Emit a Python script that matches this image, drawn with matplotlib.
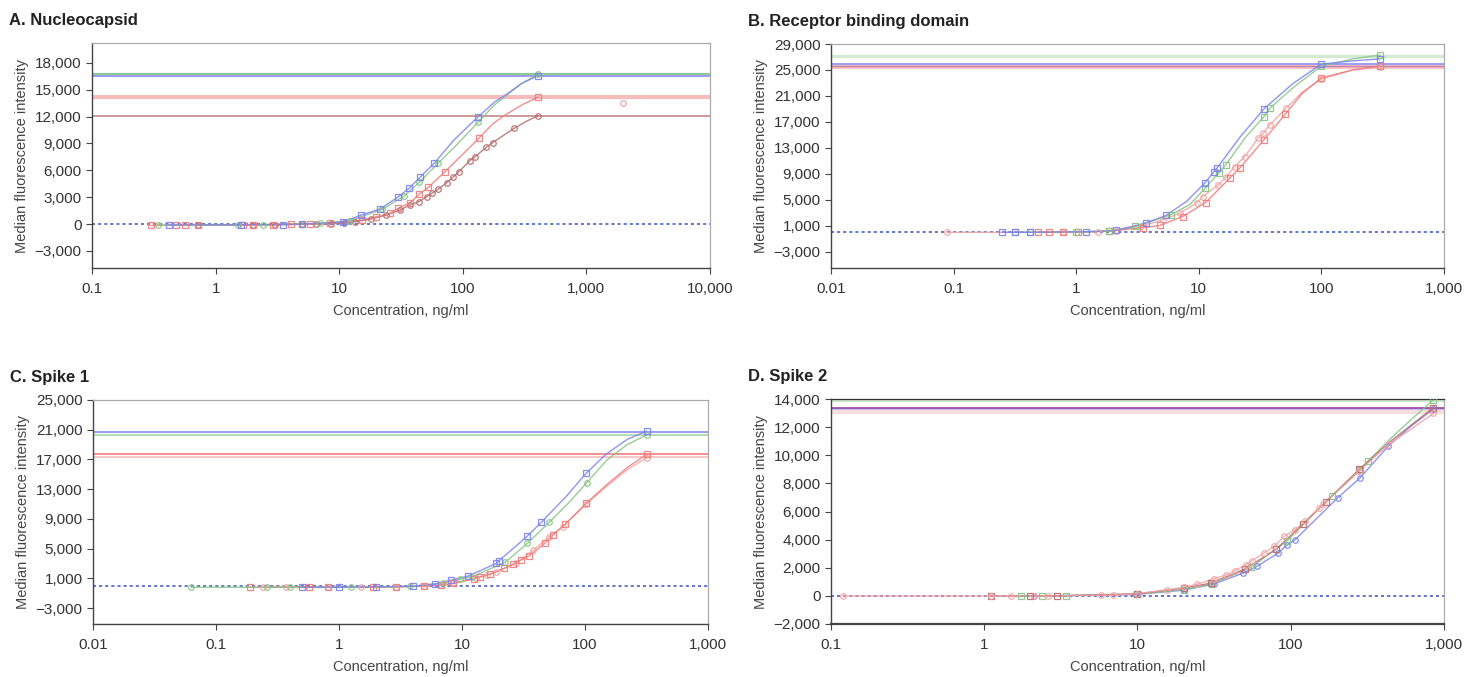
import matplotlib
matplotlib.use('Agg')
import matplotlib.pyplot as plt
from matplotlib.ticker import FixedLocator, FuncFormatter, NullLocator

plt.rcParams['font.family'] = ['Liberation Sans', 'DejaVu Sans']

# ---- data (x in ng/ml, y in MFI) ----

# A. Nucleocapsid
a_blue_x = [0.42, 1.6, 3.5, 5.0, 10.8, 15, 21.4, 29.7, 36.7, 45, 58.7, 132, 405]
a_blue_y = [-100, -80, -50, 0, 250, 1000, 1680, 2990, 3990, 5220, 6790, 11930, 16550]
a_blue_fx = [85, 180, 232, 300]
a_blue_fy = [9400, 13600, 14600, 15700]
a_green_x = [0.34, 1.53, 2.43, 7.0, 12, 22.3, 33.4, 44.5, 63, 133, 405]
a_green_y = [-100, -80, -60, 80, 350, 1640, 3130, 4660, 6790, 11370, 16700]
a_green_fx = [90, 180, 232, 300]
a_green_fy = [8900, 13300, 14500, 15700]
a_red_x = [0.30, 0.48, 0.56, 0.72, 1.68, 2.0, 2.9, 4.1, 5.8, 8.4, 15.2, 20, 25.7, 30, 37.4, 44.5, 52.6, 71.8, 135, 405]
a_red_y = [-150, -120, -120, -100, -100, -80, -60, -40, 0, 80, 450, 820, 1190, 1750, 2380, 3360, 4100, 5850, 9590, 14150]
a_red_fx = [100, 175, 213, 300]
a_red_fy = [7800, 11200, 12050, 13300]
a_dark_x = [0.72, 2.0, 3.0, 5.0, 6.5, 8.5, 11, 13.5, 18, 24, 31, 37.4, 44, 51, 56, 63, 74, 84, 93, 114, 126, 155, 174, 261, 405]
a_dark_y = [-100, -80, -60, -20, 20, 60, 150, 260, 560, 1000, 1570, 2130, 2500, 3050, 3430, 3880, 4620, 5290, 5850, 7080, 7530, 8580, 9090, 10700, 12080]
a_dark_fx = [330]
a_dark_fy = [11500]
a_out_x = [1980]
a_out_y = [13500]
a_top = [16700, 16550, 14150, 12050]

# B. Receptor binding domain
b_blue_x = [0.25, 0.32, 0.42, 1.21, 2.1, 3.7, 5.4, 11.3, 13.3, 14.2, 34, 100, 300]
b_blue_y = [0, 0, 0, 100, 300, 1410, 2590, 7660, 9350, 9970, 19000, 25900, 26700]
b_blue_fx = [8, 22, 59, 180]
b_blue_fy = [4800, 14800, 22950, 26400]
b_green_x = [0.32, 0.42, 1.0, 1.86, 3.0, 5.9, 11.3, 14.6, 16.6, 34, 38, 100, 300]
b_green_y = [0, 0, 50, 200, 900, 2690, 6800, 9200, 10380, 17800, 19100, 25600, 27300]
b_green_fx = [8.5, 24, 59, 180]
b_green_fy = [4300, 14600, 22300, 26700]
b_red_x = [0.49, 0.60, 0.78, 1.04, 1.86, 3.5, 4.8, 7.4, 11.4, 17.9, 21.6, 34, 51, 100, 300]
b_red_y = [0, 0, 0, 50, 200, 700, 1050, 2430, 4590, 8340, 9880, 14230, 18230, 23800, 25600]
b_red_fx = [70, 180]
b_red_fy = [21400, 25000]
b_pink_x = [0.089, 0.78, 1.5, 2.1, 3.3, 5.1, 7.0, 9.6, 10.8, 14.4, 16.8, 19.6, 23.7, 30.5, 33.6, 38, 51.5, 100, 300]
b_pink_y = [0, 0, 100, 250, 890, 1920, 2950, 4490, 5510, 7310, 8580, 10120, 11660, 14490, 15260, 16540, 19100, 23600, 25500]
b_pink_fx = [70, 180]
b_pink_fy = [21600, 25000]
b_top = [27200, 25950, 25650, 25450]

# C. Spike 1
c_blue_x = [0.50, 1.0, 2.0, 4.0, 6.0, 8.2, 11.2, 19, 20, 34, 44, 102, 316]
c_blue_y = [-200, -200, -150, -50, 200, 770, 1310, 3010, 3370, 6690, 8530, 15130, 20800]
c_blue_fx = [70, 148, 220]
c_blue_fy = [12000, 17700, 19700]
c_green_x = [0.063, 0.26, 0.40, 1.26, 3.8, 7.0, 9.6, 12, 22.4, 34, 51, 103, 316]
c_green_y = [-200, -200, -200, -200, -100, 400, 860, 1210, 3150, 5710, 8530, 13860, 20280]
c_green_fx = [75, 150, 220]
c_green_fy = [11300, 16900, 19000]
c_red_x = [0.19, 0.57, 0.81, 1.87, 2.9, 4.9, 6.7, 8.4, 12.4, 14, 17, 22, 26, 30, 35, 47, 55, 69, 102, 316]
c_red_y = [-200, -200, -200, -200, -150, -50, 100, 300, 940, 1210, 1570, 2340, 2920, 3460, 4000, 5710, 6820, 8300, 11090, 17680]
c_red_fx = [150, 220]
c_red_fy = [13600, 15900]
c_pink_x = [0.24, 0.37, 0.81, 1.5, 2.9, 4.9, 6.7, 8.4, 13, 16, 19, 27.6, 38, 51, 66, 102, 316]
c_pink_y = [-200, -200, -200, -200, -150, -50, 100, 300, 1000, 1440, 1880, 3010, 4800, 6600, 7940, 11000, 17240]
c_pink_fx = [150, 220]
c_pink_fy = [13400, 15600]
c_top = [20280, 20730, 17680, 17280]

# D. Spike 2
d_blue_x = [2.1, 9.8, 20, 31.5, 49, 60, 83, 94, 107, 203, 284, 434, 853]
d_blue_y = [0, 100, 400, 840, 1620, 2090, 3050, 3590, 4000, 6980, 8400, 10660, 13290]
d_blue_fx = [600]
d_blue_fy = [12000]
d_green_x = [1.75, 2.4, 3.4, 10, 20, 30.7, 55, 94, 185, 284, 321, 853]
d_green_y = [0, 0, 0, 120, 450, 840, 2020, 3880, 7090, 8930, 9590, 13930]
d_green_fx = [450, 620]
d_green_fy = [11200, 12600]
d_pink_x = [0.12, 1.1, 1.5, 2.1, 2.6, 5.8, 6.9, 10, 15.5, 20, 24.6, 31.5, 38, 43, 51, 56, 67, 78, 91, 107, 124, 154, 163, 281, 430, 853]
d_pink_y = [0, 0, 0, 0, 0, 50, 50, 150, 430, 600, 840, 1210, 1500, 1790, 2210, 2500, 3050, 3520, 4240, 4710, 5310, 6260, 6500, 8880, 10740, 12980]
d_pink_fx = [620]
d_pink_fy = [11900]
d_dark_x = [1.1, 2.0, 3.0, 10, 20, 30, 50, 80, 120, 170, 280, 853]
d_dark_y = [0, 0, 0, 150, 550, 900, 1900, 3300, 5100, 6700, 9000, 13380]
d_dark_fx = [450, 620]
d_dark_fy = [11000, 12200]
d_top = [13930, 13380, 13290, 13100]

BLUE = '#7b82ee'
GREEN = '#86c486'
RED = '#ef7b7b'
DARK = '#b56a6a'
PINK = '#f2a3a3'
PURPLE = '#9b3f9b'

fig = plt.figure(figsize=(14.82, 6.77), dpi=100)

def fmt_x(v, pos):
    if v < 1:
        return '%g' % v
    return '{:,.0f}'.format(v)

def fmt_y(v, pos):
    return '{:,.0f}'.format(v).replace('-', '\u2212')

def setup(ax, xlo, xhi, ylo, yhi, yticks, title):
    ax.set_xscale('log')
    ax.set_xlim(xlo, xhi)
    ax.set_ylim(ylo, yhi)
    dec = []
    v = xlo
    while v <= xhi * 1.001:
        dec.append(v)
        v *= 10
    ax.xaxis.set_major_locator(FixedLocator(dec))
    ax.xaxis.set_minor_locator(NullLocator())
    ax.xaxis.set_major_formatter(FuncFormatter(fmt_x))
    ax.yaxis.set_major_locator(FixedLocator(yticks))
    ax.yaxis.set_major_formatter(FuncFormatter(fmt_y))
    for s in ['left', 'bottom']:
        ax.spines[s].set_color('#444444')
        ax.spines[s].set_linewidth(1.0)
    for s in ['top', 'right']:
        ax.spines[s].set_color('#aaaaaa')
        ax.spines[s].set_linewidth(0.9)
    ax.tick_params(axis='both', colors='#444444', labelcolor='#333333',
                   labelsize=11, length=4, width=0.8, direction='out')
    ax.tick_params(axis='x', pad=6)
    ax.set_xlabel('Concentration, ng/ml', fontsize=10.5, color='#444444', labelpad=6)
    ax.set_ylabel('Median fluorescence intensity', fontsize=10.5, color='#444444', labelpad=4)
    ax.axhline(0, color='#3a4fc0', lw=1.1, ls=(0, (2, 2)), zorder=1)
    ax.text(-0.135 if xlo < 1 else -0.14, 1.1, title, transform=ax.transAxes,
            fontsize=12, fontweight='bold', color='#222222', va='center', ha='left')

def series(ax, x, y, fx, fy, color, marker, lw=1.0):
    pts = sorted(zip(list(x) + list(fx), list(y) + list(fy)))
    ax.plot([p[0] for p in pts], [p[1] for p in pts], color=color, lw=lw,
            alpha=0.85, zorder=3)
    ax.plot(x, y, ls='none', marker=marker, ms=4, mfc='none', mec=color,
            mew=0.9, alpha=0.9, zorder=4)

def plateau(ax, level, color, lw, alpha):
    ax.axhline(level, color=color, lw=lw, alpha=alpha, zorder=2)

# A
axA = fig.add_axes([0.0621, 0.6041, 0.4170, 0.3323])
setup(axA, 0.1, 10000, -4900, 20200, [18000, 15000, 12000, 9000, 6000, 3000, 0, -3000],
      'A. Nucleocapsid')
plateau(axA, a_top[0], GREEN, 1.6, 0.9)
plateau(axA, a_top[1], BLUE, 1.2, 0.9)
plateau(axA, a_top[2], RED, 3.0, 0.5)
plateau(axA, a_top[3], DARK, 1.2, 0.8)
series(axA, a_dark_x, a_dark_y, a_dark_fx, a_dark_fy, DARK, 'o')
series(axA, a_red_x, a_red_y, a_red_fx, a_red_fy, RED, 's')
series(axA, a_green_x, a_green_y, a_green_fx, a_green_fy, GREEN, 'o')
series(axA, a_blue_x, a_blue_y, a_blue_fx, a_blue_fy, BLUE, 's')
axA.plot(a_out_x, a_out_y, ls='none', marker='o', ms=4, mfc='none', mec=PINK, mew=0.9)

# B
axB = fig.add_axes([0.5607, 0.6041, 0.4136, 0.3309])
setup(axB, 0.01, 1000, -5500, 29000,
      [29000, 25000, 21000, 17000, 13000, 9000, 5000, 1000, -3000],
      'B. Receptor binding domain')
plateau(axB, b_top[0], GREEN, 2.5, 0.35)
plateau(axB, b_top[3], RED, 3.0, 0.45)
plateau(axB, b_top[2], PURPLE, 1.0, 0.5)
plateau(axB, b_top[1], BLUE, 1.2, 0.9)
series(axB, b_pink_x, b_pink_y, b_pink_fx, b_pink_fy, PINK, 'o')
series(axB, b_red_x, b_red_y, b_red_fx, b_red_fy, RED, 's')
series(axB, b_green_x, b_green_y, b_green_fx, b_green_fy, GREEN, 's')
series(axB, b_blue_x, b_blue_y, b_blue_fx, b_blue_fy, BLUE, 's')

# C
axC = fig.add_axes([0.0628, 0.0783, 0.4150, 0.3309])
setup(axC, 0.01, 1000, -5150, 25000,
      [25000, 21000, 17000, 13000, 9000, 5000, 1000, -3000],
      'C. Spike 1')
plateau(axC, c_top[0], GREEN, 1.5, 0.6)
plateau(axC, c_top[1], BLUE, 1.2, 0.9)
plateau(axC, c_top[2], RED, 1.3, 0.9)
plateau(axC, c_top[3], PINK, 1.5, 0.6)
series(axC, c_pink_x, c_pink_y, c_pink_fx, c_pink_fy, PINK, 'o')
series(axC, c_red_x, c_red_y, c_red_fx, c_red_fy, RED, 's')
series(axC, c_green_x, c_green_y, c_green_fx, c_green_fy, GREEN, 'o')
series(axC, c_blue_x, c_blue_y, c_blue_fx, c_blue_fy, BLUE, 's')

# D
axD = fig.add_axes([0.5607, 0.0783, 0.4136, 0.3323])
setup(axD, 0.1, 1000, -2000, 14000,
      [14000, 12000, 10000, 8000, 6000, 4000, 2000, 0, -2000],
      'D. Spike 2')
plateau(axD, d_top[0], GREEN, 3.0, 0.4)
plateau(axD, d_top[3], PINK, 3.0, 0.35)
plateau(axD, d_top[2], BLUE, 1.2, 0.6)
plateau(axD, d_top[1], PURPLE, 1.3, 0.9)
series(axD, d_blue_x, d_blue_y, d_blue_fx, d_blue_fy, BLUE, 'o')
series(axD, d_green_x, d_green_y, d_green_fx, d_green_fy, GREEN, 's')
series(axD, d_dark_x, d_dark_y, d_dark_fx, d_dark_fy, DARK, 's')
series(axD, d_pink_x, d_pink_y, d_pink_fx, d_pink_fy, PINK, 'o')
axD.spines['bottom'].set_linewidth(1.6)
axD.spines['top'].set_color('#333333')

fig.savefig('out.png', dpi=100)
